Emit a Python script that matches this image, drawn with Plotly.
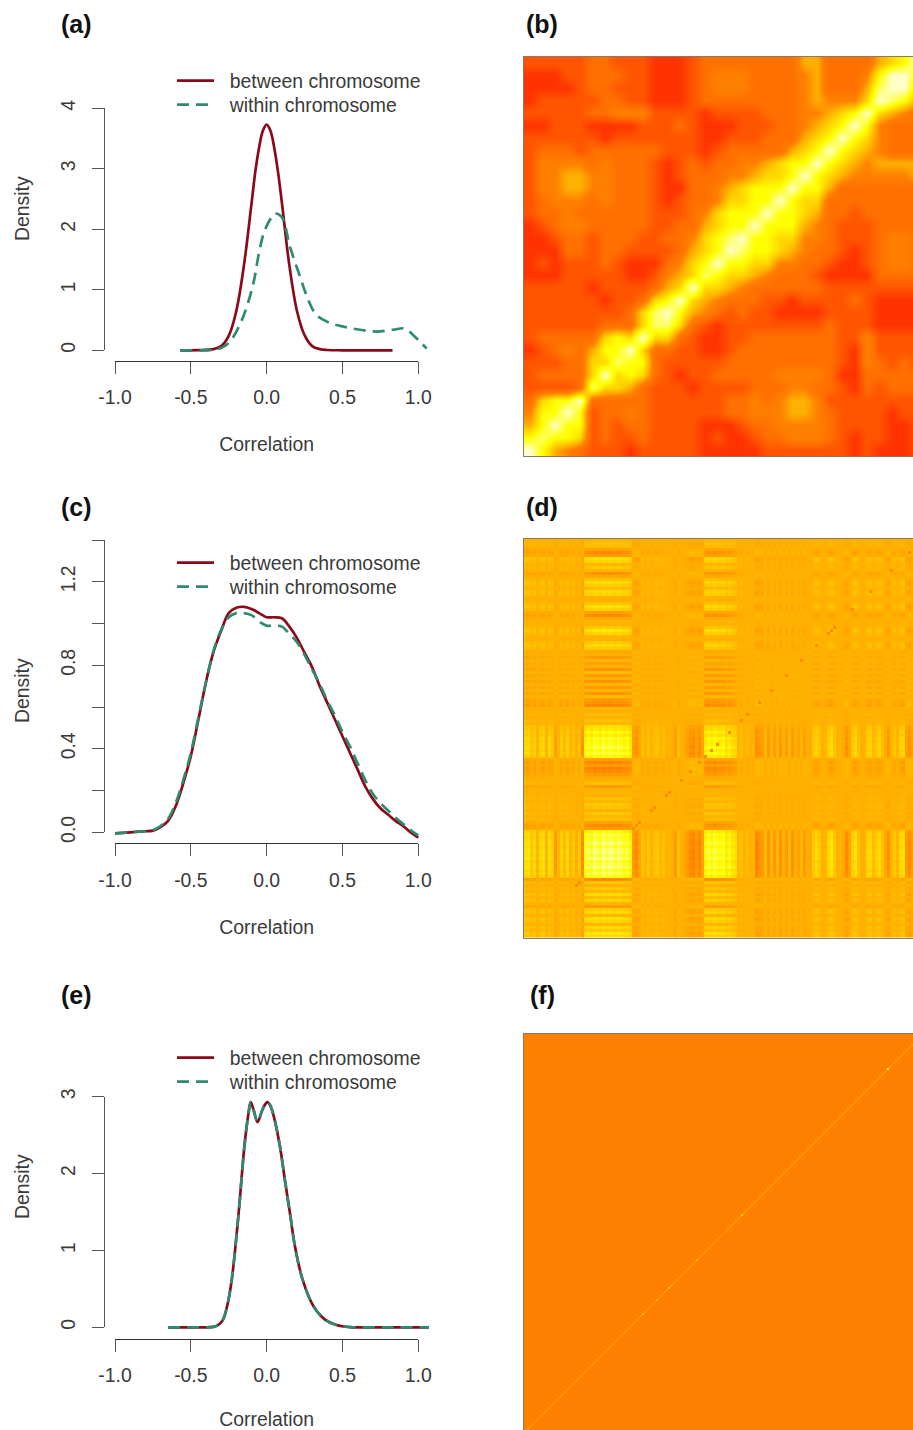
import numpy as np
import plotly.graph_objects as go

W, H = 913, 1430
RED, GREEN = "#8B0A1A", "#2E8B6E"
TXT = "#3a3a3a"
FONT = "Liberation Sans"
FS = 19.4

# ---------- density curves ----------
a_between_x = [-0.57,-0.45,-0.35,-0.30,-0.25,-0.20,-0.15,-0.10,-0.075,-0.05,-0.025,0.0,0.025,0.05,0.075,0.10,0.15,0.20,0.25,0.30,0.35,0.40,0.50,0.83]
a_between_y = [0,0.002,0.02,0.07,0.24,0.65,1.4,2.42,2.95,3.35,3.63,3.73,3.63,3.35,2.95,2.45,1.4,0.65,0.25,0.07,0.02,0.005,0,0]
a_within_x = [-0.57,-0.35,-0.30,-0.26,-0.22,-0.154,-0.088,-0.055,-0.02,0.02,0.055,0.10,0.154,0.22,0.275,0.33,0.42,0.51,0.615,0.725,0.835,0.91,0.967,1.055]
a_within_y = [0,0.01,0.04,0.1,0.22,0.56,1.1,1.55,1.93,2.15,2.26,2.2,1.71,1.22,0.83,0.58,0.45,0.39,0.34,0.31,0.34,0.36,0.25,0.03]

c_x = [-1,-0.9,-0.8,-0.75,-0.7,-0.65,-0.6,-0.55,-0.5,-0.45,-0.4,-0.35,-0.3,-0.25,-0.2,-0.15,-0.1,-0.05,0,0.05,0.1,0.15,0.2,0.25,0.3,0.35,0.4,0.45,0.5,0.55,0.6,0.65,0.7,0.75,0.8,0.85,0.9,0.95,1]
c_between = [-0.005,0,0.005,0.008,0.025,0.055,0.125,0.235,0.365,0.54,0.72,0.865,0.965,1.05,1.075,1.08,1.07,1.05,1.03,1.03,1.025,0.985,0.93,0.86,0.79,0.70,0.62,0.54,0.46,0.38,0.30,0.22,0.16,0.115,0.085,0.055,0.03,0.0,-0.025]
c_within = [-0.005,0,0.005,0.01,0.03,0.065,0.14,0.25,0.38,0.55,0.72,0.87,0.97,1.03,1.05,1.05,1.04,1.01,0.99,0.99,0.985,0.95,0.91,0.85,0.78,0.71,0.63,0.56,0.48,0.41,0.33,0.25,0.185,0.14,0.105,0.07,0.04,0.01,-0.015]

e_x = [-0.65,-0.45,-0.35,-0.32,-0.29,-0.26,-0.23,-0.185,-0.147,-0.12,-0.105,-0.085,-0.06,-0.03,-0.01,0.005,0.025,0.05,0.088,0.12,0.154,0.187,0.237,0.31,0.385,0.46,0.55,0.8,1.07]
e_y = [0,0,0.005,0.03,0.09,0.28,0.62,1.48,2.35,2.78,2.93,2.82,2.67,2.82,2.9,2.93,2.88,2.72,2.35,1.92,1.48,1.05,0.62,0.27,0.10,0.03,0.003,0,0]

# ---------- heat map (b): top-left triangle, rows from the top, levels 0-8 ----------
b_rows = [
 [1,1,1,1,1,2,2,1,1,1,0,0,0,1,2,2,2,2,2,2,2,2,4,4,2,2,2,2,4,5,6,8],
 [0,0,0,1,1,2,2,2,1,1,0,0,0,1,2,3,3,3,2,2,2,2,3,4,2,2,2,3,6,8,8],
 [0,0,0,0,1,2,2,1,1,1,0,0,0,1,2,3,3,3,2,2,2,2,3,4,2,2,2,4,7,8],
 [0,1,1,1,1,1,2,2,1,1,0,0,0,1,2,2,2,2,2,2,2,2,3,4,3,3,3,5,8],
 [1,1,1,1,1,2,2,3,3,3,1,1,1,1,0,1,1,1,1,2,2,2,3,3,4,5,6,8],
 [0,0,1,1,1,0,0,0,0,1,1,1,2,1,0,0,0,1,1,1,2,2,3,4,5,6,8],
 [1,1,1,1,1,1,0,1,1,1,1,1,1,1,0,0,1,1,1,2,2,2,4,5,6,8],
 [1,2,2,2,1,2,2,2,2,2,2,1,1,1,0,1,2,2,2,2,2,4,5,6,8],
 [1,3,3,3,3,2,3,2,2,2,1,0,1,2,1,2,2,3,3,4,5,6,6,8],
 [1,3,3,4,4,3,3,2,2,2,1,0,1,2,2,2,3,3,4,5,5,6,8],
 [1,3,3,4,4,3,3,2,2,2,1,0,0,2,2,3,4,5,6,6,6,8],
 [1,2,3,3,3,2,3,2,2,2,1,0,1,2,2,3,5,5,6,6,8],
 [1,2,2,3,2,2,2,2,2,2,1,1,1,2,3,5,6,6,6,8],
 [0,1,2,3,3,2,2,2,2,2,1,1,2,2,4,5,6,6,8],
 [0,0,1,2,2,1,2,2,2,1,1,2,2,3,5,6,7,8],
 [0,0,0,2,2,1,2,2,1,1,1,1,2,4,5,6,8],
 [0,1,0,1,1,1,2,1,0,0,0,2,3,5,6,8],
 [0,0,0,1,1,1,1,1,0,0,1,3,4,5,7],
 [1,1,1,1,1,0,1,1,1,1,2,4,5,8],
 [1,1,1,1,1,1,0,1,1,2,5,6,8],
 [1,1,1,1,1,1,1,1,2,5,7,8],
 [1,1,1,1,1,1,2,2,2,5,7],
 [1,2,2,2,2,2,5,6,5,8],
 [0,1,2,3,2,4,6,6,8],
 [1,1,1,2,2,5,5,7],
 [1,2,2,2,2,5,8],
 [1,1,1,1,2,7],
 [2,5,6,6,8],
 [3,6,6,8],
 [4,6,8],
 [6,7],
 [8],
]

# ---------- heat map (d): stripe strength along the diagonal, from bottom-left ----------
d_base = 4.0
d_stripes = [0.7,0.9,0.4,0.7, 0.1,0.6,0.8,0.1,0.7,0.5, -0.3,0.1, 0.6,0.2,0.7,0.1, 0.4,0.0,0.4,-0.5,
 1.4,1.8,1.5,2.0,1.8,1.6,2.1,1.7,2.0,1.9,1.6,2.0,1.7,1.5,1.7,1.2, -0.3,-0.5,-0.2,
 0.3,0.1,0.4,0.0,0.3,0.4,0.1,0.3, 0,0.1,0,-0.3, 0.3,0.0,-0.1,-0.3, -0.5,-0.6,-0.3,-0.6,-0.2,
 1.2,1.6,1.3,1.7,1.4,1.3,1.5,1.0,1.3,0.9,0.8, 0.1,0.3,0.0,0.2,0,0.1, -0.6,-0.4,-0.3, 0.2,-0.4,0.1,
 -0.3,0.1,-0.4,0.0,-0.3,0.2,-0.4,0.0,-0.2,0.1,-0.3,0.0,-0.1, 0.4,0.7,0.4, 0,0.1, 0.6,0.9,0.4,
 0.0,0.1,-0.1, -0.5,-0.2, 0.5,0.8,0.3, 0,0.0, 0.6,0.7,0.2, 0.5,0.7,0.3, -0.1,-0.4, 0.1, 0.4,0.1,
 0.6,0.8, -0.3,-0.5,-0.2, 0.2,0.3,0.1]
d_diag_cells = [17,18,36,37,38,42,43,47,48,52,55,58,60,62,64,68,72,74,78,82,87,92,97,101,102,103,109,115,122,128]
d_diag_level = 3.2

# ---------- heat map (f): flat level with a paler diagonal ----------
f_size = 200
f_base = 3.0
f_diag = 3.6
f_spot_cells = [59,66,72,86,109,182]
f_spot_levels = [4.4,4.4,4.6,4.4,5.0,6.5]

heat_scale = [[0/8,"#FF3300"],[1/8,"#FF5500"],[2/8,"#FF7000"],[3/8,"#FF8000"],[4/8,"#FFB000"],
              [5/8,"#FFD800"],[6/8,"#FFFF00"],[7/8,"#FFFF66"],[8/8,"#FFFFCC"]]

# ---------- matrices ----------
nb = len(b_rows)
zb = np.zeros((nb, nb))
for r, row in enumerate(b_rows):
    for c, v in enumerate(row):
        zb[r, c] = v
        zb[nb - 1 - c, nb - 1 - r] = v
zb = zb[::-1]

s = np.array(d_stripes)
zd = d_base + 0.85 * np.outer(s, s)
for i in d_diag_cells:
    zd[i, i] = d_diag_level

zf = np.full((f_size, f_size), f_base)
np.fill_diagonal(zf, f_diag)
for i, v in zip(f_spot_cells, f_spot_levels):
    zf[i, i] = v

# ---------- pixel helpers ----------
def px(x): return x / W
def py(y): return 1 - y / H

fig = go.Figure()
layout = {}
n_axis = [0]
n_leg = [0]

def new_axes():
    n_axis[0] += 1
    n = n_axis[0]
    return n, ("x%d" % n), ("y%d" % n), ("xaxis%d" % n), ("yaxis%d" % n)

def new_legend(y_center):
    n_leg[0] += 1
    name = "legend" if n_leg[0] == 1 else "legend%d" % n_leg[0]
    layout[name] = dict(x=px(172), y=py(y_center), xanchor="left", yanchor="middle", bgcolor="rgba(0,0,0,0)",
                        itemwidth=37, font=dict(family=FONT, size=FS, color=TXT),
                        itemclick=False, itemdoubleclick=False)
    return name

X0, X1 = 115.0, 418.3

def density_panel(top_tick_px, zero_px, top_val, yticks, yticktext, axis_y, leg_y, series):
    n, xa, ya, xk, yk = new_axes()
    sx = (X1 - X0) / 2
    left, right = 104.0, 440.0
    sy = (zero_px - top_tick_px) / top_val
    top, bot = zero_px - 1.06 * top_val * sy, axis_y + 10
    layout[xk] = dict(domain=[px(left), px(right)], range=[-1 + (left - X0) / sx, -1 + (right - X0) / sx],
                      visible=False, anchor=ya)
    layout[yk] = dict(domain=[py(bot), py(top)], range=[(zero_px - bot) / sy, (zero_px - top) / sy],
                      visible=False, anchor=xa)
    for (name, x, y, col, dash), ly in zip(series, leg_y):
        fig.add_trace(go.Scatter(x=x, y=y, name="\u00a0\u00a0" + name, mode="lines", xaxis=xa, yaxis=ya,
                                 line=dict(color=col, width=2.7, dash=dash, shape="spline", smoothing=1.0),
                                 legend=new_legend(ly), hoverinfo="skip"))
    n, xa, ya, xk, yk = new_axes()
    layout[xk] = dict(domain=[px(X0), px(X1)], range=[-1, 1], anchor="free", position=py(axis_y),
                      tickvals=[-1, -0.5, 0, 0.5, 1], ticktext=["-1.0", "-0.5", "0.0", "0.5", "1.0"],
                      ticks="outside", ticklen=12, tickwidth=1, tickcolor="#555", showline=True, linecolor="#333",
                      linewidth=1, showgrid=False, zeroline=False, ticklabelstandoff=7,
                      tickfont=dict(family=FONT, size=FS, color=TXT), automargin=False,
                      title=dict(text="Correlation", font=dict(family=FONT, size=FS, color=TXT), standoff=30))
    layout[yk] = dict(domain=[py(zero_px), py(top_tick_px)], range=[0, top_val], anchor="free", position=px(103.5),
                      tickvals=yticks, ticktext=yticktext, tickangle=-90, side="left",
                      ticks="outside", ticklen=12, tickwidth=1, tickcolor="#555", showline=True, linecolor="#555",
                      linewidth=1, showgrid=False, zeroline=False, ticklabelstandoff=9,
                      tickfont=dict(family=FONT, size=FS, color=TXT), automargin=False)
    fig.add_trace(go.Scatter(x=[-1, 1], y=[0, top_val], mode="lines", xaxis=xa, yaxis=ya, opacity=0,
                             showlegend=False, hoverinfo="skip"))

def heat_panel(z, top, bottom_visible, smooth, show_bottom=True):
    n, xa, ya, xk, yk = new_axes()
    N = len(z)
    full = 399.0
    xmax = -0.5 + N * (913 - 524) / full
    ymin = -0.5 + N * (top + full - bottom_visible) / full
    layout[xk] = dict(domain=[px(524), 1], range=[-0.5, xmax], showticklabels=False, ticks="", showgrid=False,
                      zeroline=False, anchor=ya, showline=True, linecolor="#8a7a60", linewidth=1,
                      mirror=show_bottom, side="bottom" if show_bottom else "top")
    layout[yk] = dict(domain=[py(bottom_visible), py(top)], range=[ymin, N - 0.5], showticklabels=False, ticks="",
                      showgrid=False, zeroline=False, anchor=xa, showline=True, linecolor="#8a7a60", linewidth=1)
    fig.add_trace(go.Heatmap(z=z.tolist(), xaxis=xa, yaxis=ya, colorscale=heat_scale, zmin=0, zmax=8,
                             showscale=False, zsmooth=smooth, hoverinfo="skip"))

ser = lambda bx, by, wx, wy: [("between chromosome", bx, by, RED, "solid"), ("within chromosome", wx, wy, GREEN, "12px,7px")]

density_panel(108.3, 350.3, 4, [0, 1, 2, 3, 4], ["0", "1", "2", "3", "4"], 361, [81, 105],
              ser(a_between_x, a_between_y, a_within_x, a_within_y))
heat_panel(zb, 57, 456, "best")
density_panel(540, 832.3, 1.4, [0, 0.2, 0.4, 0.6, 0.8, 1.0, 1.2, 1.4], ["0.0", "", "0.4", "", "0.8", "", "1.2", ""], 843.3, [563, 587],
              ser(c_x, c_between, c_x, c_within))
heat_panel(zd, 539, 937.5, False)
density_panel(1096.7, 1327.3, 3, [0, 1, 2, 3], ["0", "1", "2", "3"], 1338.7, [1058, 1082],
              ser(e_x, e_y, e_x, e_y))
heat_panel(zf, 1034, 1430, False, show_bottom=False)

panel_letters = ["(a)", "(b)", "(c)", "(d)", "(e)", "(f)"]
letter_x = [59, 524, 59, 524, 59, 528]
letter_y = [24, 24, 507, 507, 995, 995]
annotations = [dict(text="<b>%s</b>" % t, x=px(a), y=py(b), xref="paper", yref="paper", xanchor="left", yanchor="middle",
                    showarrow=False, font=dict(family=FONT, size=25, color="#111"))
               for t, a, b in zip(panel_letters, letter_x, letter_y)]
density_label_y = [209, 691, 1187]
annotations += [dict(text="Density", x=px(22), y=py(b), xref="paper", yref="paper", xanchor="center", yanchor="middle",
                     textangle=-90, showarrow=False, font=dict(family=FONT, size=FS, color=TXT))
                for b in density_label_y]

fig.update_layout(width=W, height=H, margin=dict(l=0, r=0, t=0, b=0, autoexpand=False),
                  paper_bgcolor="white", plot_bgcolor="rgba(0,0,0,0)",
                  annotations=annotations, **layout)
fig.write_html("out.html", config=dict(displayModeBar=False),
               post_script="document.body.style.margin='0';document.documentElement.style.overflow='hidden';")
